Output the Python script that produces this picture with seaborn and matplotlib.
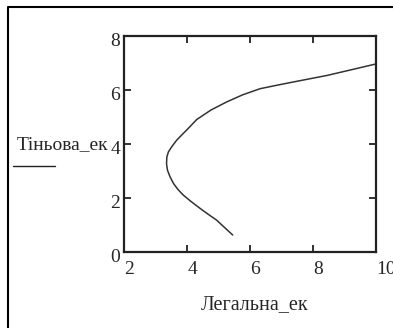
import matplotlib
matplotlib.use("Agg")
import matplotlib.pyplot as plt
import matplotlib.transforms as mtransforms
from matplotlib.lines import Line2D
import seaborn as sns
import pandas as pd

# --- data (parametric curve) ---
legal = [5.44, 5.18, 4.93, 4.66, 4.40, 4.13, 3.87, 3.70, 3.56, 3.45, 3.37, 3.34,
         3.35, 3.40, 3.50, 3.66, 3.87, 4.08, 4.30, 4.75, 5.25, 5.75, 6.31,
         6.85, 7.37, 7.90, 8.43, 9.20, 10.0]
shadow = [0.64, 0.92, 1.19, 1.41, 1.63, 1.87, 2.12, 2.33, 2.55, 2.80, 3.04, 3.28,
          3.53, 3.72, 3.90, 4.15, 4.40, 4.65, 4.92, 5.27, 5.57, 5.83, 6.06,
          6.19, 6.31, 6.43, 6.55, 6.76, 6.98]
xticks = [2, 4, 6, 8, 10]
yticks = [0, 2, 4, 6, 8]

df = pd.DataFrame({"legal": legal, "shadow": shadow})

sns.set_style("white")
plt.rcParams["font.family"] = ["Liberation Serif", "DejaVu Serif"]

fig = plt.figure(figsize=(3.93, 3.28), dpi=100)
ax = fig.add_axes([0.3163, 0.2308, 0.6415, 0.6585])

sns.lineplot(data=df, x="legal", y="shadow", sort=False, estimator=None,
             color="#333333", linewidth=1.1, ax=ax)

ax.set_xlim(2, 10)
ax.set_ylim(0, 8)
ax.set_xticks(xticks)
ax.set_yticks(yticks)
ax.set_xticklabels([str(t) for t in xticks], fontsize=14, ha="left")
ax.set_yticklabels([str(t) for t in yticks], fontsize=14)
ax.tick_params(axis="both", direction="in", length=5, width=1.3, color="#222222",
               top=True, right=True, left=True, bottom=True)
ax.tick_params(axis="x", pad=6)
ax.tick_params(axis="y", pad=3)
for lab in ax.get_yticklabels():
    lab.set_transform(lab.get_transform() + mtransforms.ScaledTranslation(0, -3 / 100, fig.dpi_scale_trans))
for s in ax.spines.values():
    s.set_linewidth(1.6)
    s.set_color("#222222")
ax.set_xlabel("")
ax.set_ylabel("")

# axis titles the way Mathcad places them
fig.text(255 / 393, 1 - 305 / 328, "Легальна_ек", fontsize=14.5, ha="center", va="center")
fig.text(17 / 393, 1 - 145 / 328, "Тіньова_ек", fontsize=14, ha="left", va="center")
fig.add_artist(Line2D([13 / 393, 55 / 393], [1 - 166 / 328, 1 - 166 / 328],
                      transform=fig.transFigure, color="#222222", linewidth=1.0))

# outer frame (top and left only)
fig.add_artist(Line2D([8 / 393, 8 / 393, 1.0], [0.0, 1 - 7 / 328, 1 - 7 / 328],
                      transform=fig.transFigure, color="black", linewidth=1.5))

fig.savefig("out.png", dpi=100)
